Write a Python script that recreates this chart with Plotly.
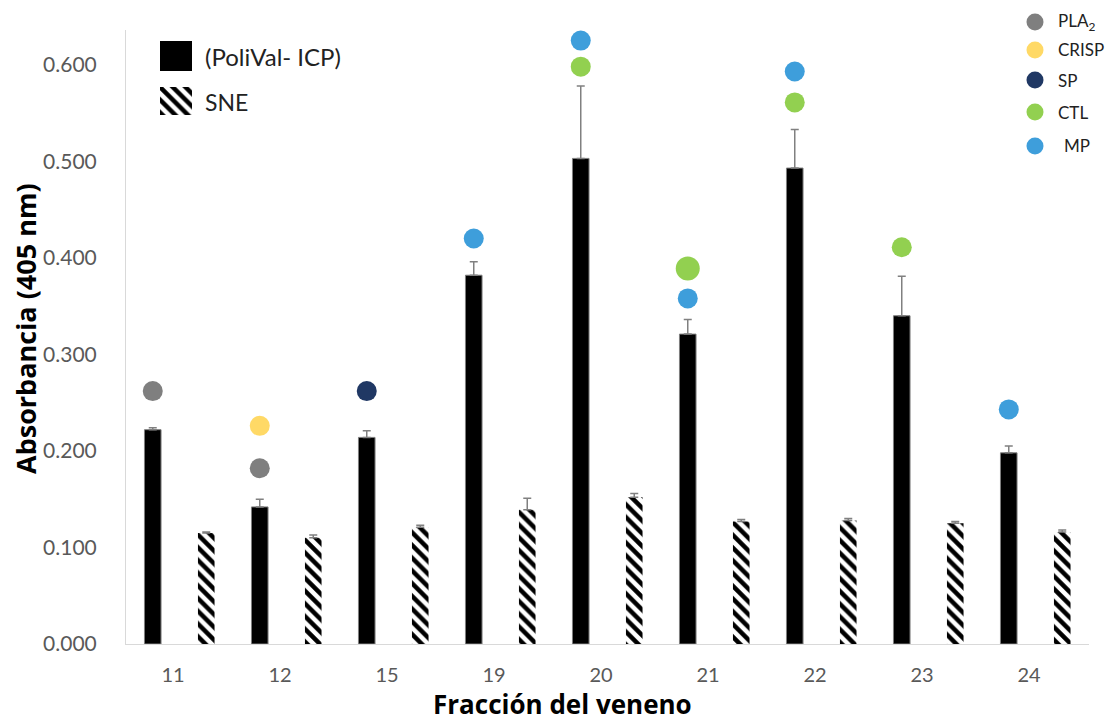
import plotly.graph_objects as go

# Venom fractions and mean absorbance at 405 nm
fractions = ["11", "12", "15", "19", "20", "21", "22", "23", "24"]
polival = [0.222, 0.142, 0.214, 0.382, 0.503, 0.321, 0.493, 0.340, 0.198]
polival_err = [0.002, 0.008, 0.007, 0.014, 0.075, 0.015, 0.040, 0.041, 0.007]
sne = [0.115, 0.110, 0.121, 0.139, 0.152, 0.127, 0.128, 0.125, 0.116]
sne_err = [0.001, 0.003, 0.002, 0.012, 0.004, 0.002, 0.002, 0.002, 0.002]

# Protein families identified in each fraction (marker level on the chart)
pla2_fr, pla2_y = ["11", "12"], [0.262, 0.182]
crisp_fr, crisp_y = ["12"], [0.226]
sp_fr, sp_y = ["15"], [0.262]
ctl_fr, ctl_y = ["20", "21", "22", "23"], [0.598, 0.389, 0.561, 0.411]
mp_fr, mp_y = ["19", "20", "21", "22", "24"], [0.420, 0.625, 0.358, 0.593, 0.243]

y_ticks = [0.0, 0.1, 0.2, 0.3, 0.4, 0.5, 0.6]

W, H = 1109, 723
FONT = "Lato"
TITLE_FONT = "Open Sans"
GREY_TXT = "#595959"
AXIS_LINE = "#d9d9d9"
ERR_COL = "#808080"
COLORS = {"PLA2": "#7f7f7f", "CRISP": "#ffd966", "SP": "#203864",
          "CTL": "#92d050", "MP": "#3e9edb"}

# plot area in figure pixels
PX_L, PX_R, PX_T, PX_B = 126, 1089, 30, 644
BAR_W = 0.155
SHIFT = 0.25

HATCH = dict(shape="\\", fgcolor="black", bgcolor="white", fgopacity=1,
             size=9, solidity=0.5, fillmode="overlay")

idx = {f: i for i, f in enumerate(fractions)}

fig = go.Figure()

fig.add_trace(go.Bar(
    x=[i - SHIFT for i in range(len(fractions))], y=polival, width=BAR_W,
    marker=dict(color="black", line=dict(color="#7f7f7f", width=1)),
    error_y=dict(type="data", symmetric=False, array=polival_err,
                 arrayminus=[0] * len(polival_err), color=ERR_COL,
                 thickness=1.5, width=4),
    name="(PoliVal- ICP)", showlegend=False,
))
fig.add_trace(go.Bar(
    x=[i + SHIFT for i in range(len(fractions))], y=sne, width=BAR_W,
    marker=dict(color="white", line=dict(width=0), pattern=HATCH),
    error_y=dict(type="data", symmetric=False, array=sne_err,
                 arrayminus=[0] * len(sne_err), color=ERR_COL,
                 thickness=1.5, width=4),
    name="SNE", showlegend=False,
))


def family(fr, vals, key, size=20):
    fig.add_trace(go.Scatter(
        x=[idx[f] - SHIFT for f in fr], y=vals, mode="markers",
        marker=dict(color=COLORS[key], size=size, opacity=1,
                    line=dict(width=0)),
        name=key, showlegend=False, cliponaxis=False,
    ))


family(pla2_fr, pla2_y, "PLA2")
family(crisp_fr, crisp_y, "CRISP")
family(sp_fr, sp_y, "SP")
family(ctl_fr, ctl_y, "CTL", size=[20, 24, 20, 20])
family(mp_fr, mp_y, "MP")

# hatched legend swatch drawn as a small bar on its own axes
fig.add_trace(go.Bar(
    x=[0], y=[1], width=1, xaxis="x2", yaxis="y2", showlegend=False,
    hoverinfo="skip",
    marker=dict(color="white", line=dict(width=0), pattern=HATCH),
))


def fx(px):
    return px / W


def fy(py):
    return 1 - py / H


shapes = [
    dict(type="rect", xref="paper", yref="paper",
         x0=fx(160), x1=fx(192), y0=fy(71), y1=fy(41),
         fillcolor="black", line=dict(width=0)),
]
annotations = [
    dict(text="(PoliVal- ICP)", x=fx(203), y=fy(57), xref="paper", yref="paper",
         xanchor="left", yanchor="middle", showarrow=False,
         font=dict(family=FONT, size=24, color="#222222")),
    dict(text="SNE", x=fx(203), y=fy(102), xref="paper", yref="paper",
         xanchor="left", yanchor="middle", showarrow=False,
         font=dict(family=FONT, size=23, color="#222222")),
    dict(text="Absorbancia (405 nm)", x=fx(26), y=fy(329), xref="paper",
         yref="paper", textangle=-90, xanchor="center", yanchor="middle",
         showarrow=False, font=dict(family=TITLE_FONT, size=27, color="black",
                                    weight="bold")),
    dict(text="Fracción del veneno", x=fx(562), y=fy(704), xref="paper",
         yref="paper", xanchor="center", yanchor="middle", showarrow=False,
         font=dict(family=TITLE_FONT, size=26, color="black", weight="bold")),
]

# right-hand key for the protein families
key_rows = [("PLA<sub>2</sub>", "PLA2", 22, 1056), ("CRISP", "CRISP", 50, 1056),
            ("SP", "SP", 80, 1056), ("CTL", "CTL", 112, 1056),
            ("MP", "MP", 146, 1062)]
for label, key, cy, tx in key_rows:
    r = 8.5
    shapes.append(dict(type="circle", xref="paper", yref="paper",
                       x0=fx(1035 - r), x1=fx(1035 + r),
                       y0=fy(cy + r), y1=fy(cy - r),
                       fillcolor=COLORS[key], line=dict(width=0)))
    annotations.append(dict(text=label, x=fx(tx), y=fy(cy), xref="paper",
                            yref="paper", xanchor="left", yanchor="middle",
                            showarrow=False,
                            font=dict(family=FONT, size=17, color="#222222")))

fig.update_layout(
    width=W, height=H,
    margin=dict(l=0, r=0, t=0, b=0),
    paper_bgcolor="white", plot_bgcolor="white",
    barmode="overlay",
    showlegend=False,
    font=dict(family=FONT),
    xaxis=dict(
        domain=[fx(PX_L), fx(PX_R)], range=[-0.5, len(fractions) - 0.5],
        tickmode="array", tickvals=[i - 0.06 for i in range(len(fractions))],
        ticktext=fractions, ticks="", showgrid=False, zeroline=False,
        showline=True, linecolor=AXIS_LINE, linewidth=1,
        tickfont=dict(family=FONT, size=20, color=GREY_TXT),
        ticklabelstandoff=13, automargin=False,
    ),
    yaxis=dict(
        domain=[fy(PX_B), fy(PX_T)], range=[0, 0.636],
        tickmode="array", tickvals=y_ticks,
        ticktext=[f"{v:.3f}" for v in y_ticks], ticks="",
        showgrid=False, zeroline=False, showline=True,
        linecolor=AXIS_LINE, linewidth=1,
        tickfont=dict(family=FONT, size=21, color=GREY_TXT),
        ticklabelstandoff=24, automargin=False,
    ),
    xaxis2=dict(domain=[fx(160), fx(192)], range=[-0.5, 0.5], visible=False,
                fixedrange=True),
    yaxis2=dict(domain=[fy(115), fy(87)], range=[0, 1], visible=False,
                fixedrange=True),
    shapes=shapes,
    annotations=annotations,
)

fig.write_html("out.html")
